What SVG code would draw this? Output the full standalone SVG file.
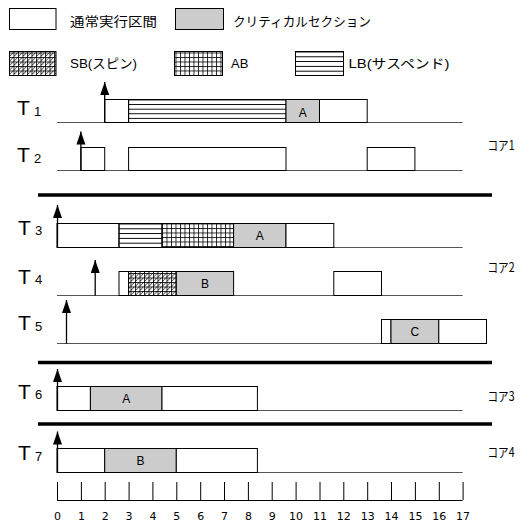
<svg xmlns="http://www.w3.org/2000/svg" width="522" height="523" viewBox="0 0 522 523">
<style>
  .box{fill:#fff;stroke:#000;stroke-width:1}
  .cs{fill:#cccccc;stroke:#000;stroke-width:1}
  .lb{fill:url(#hatchH);stroke:#000;stroke-width:1}
  .ab{fill:url(#grid);stroke:#000;stroke-width:1}
  .sb{fill:url(#sbPat);stroke:#000;stroke-width:1}
  .base{stroke:#555;stroke-width:1.2;fill:none}
  .sep{stroke:#000;stroke-width:3.5}
  .arrow{stroke:#000;stroke-width:1.3;fill:none;marker-end:url(#ah)}
  .t{font-family:'Liberation Sans',Arial,sans-serif;font-size:21px;fill:#000}
  .sub{font-family:'Liberation Sans',Arial,sans-serif;font-size:13px;fill:#000}
  .lbl{font-family:'Liberation Sans',Arial,sans-serif;font-size:12px;fill:#000;text-anchor:middle}
  .leg{font-family:'Liberation Sans','Noto Sans CJK JP',sans-serif;font-size:13px;fill:#000}
  .core{font-family:'Noto Sans CJK JP','Liberation Sans',sans-serif;font-size:13px;fill:#000}
  .num{font-family:'DejaVu Sans',Verdana,sans-serif;font-size:11px;fill:#000;text-anchor:middle}
  .tick{stroke:#000;stroke-width:1}
</style>
<defs>
  <pattern id="hatchH" patternUnits="objectBoundingBox" width="1" height="0.2">
    <path d="M0 0.5H2000" stroke="#000" stroke-width="1"/>
  </pattern>
  <pattern id="grid" patternUnits="userSpaceOnUse" x="0" y="3" width="4.5" height="4.5">
    <rect width="4.5" height="4.5" fill="#fff"/>
    <path d="M0 0.5H4.5M0.5 0V4.5" stroke="#000" stroke-width="0.8"/>
  </pattern>
  <pattern id="sbPat" patternUnits="userSpaceOnUse" x="0" y="3" width="4.5" height="4.5">
    <rect width="4.5" height="4.5" fill="#fff"/>
    <path d="M0 0.5H4.5M0.5 0V4.5M0 4.5L4.5 0" stroke="#000" stroke-width="0.8"/>
  </pattern>
  <marker id="ah" markerUnits="userSpaceOnUse" markerWidth="14" markerHeight="10" refX="13" refY="4.5" orient="auto">
    <path d="M0 0L13 4.5L0 9Z" fill="#000"/>
  </marker>
</defs>

<g id="legend">
  <g id="legend-normal">
    <rect class="box" x="9.5" y="8.5" width="46.5" height="21"/>
    <text class="leg" x="70" y="26" font-size="14" textLength="87" lengthAdjust="spacingAndGlyphs">通常実行区間</text>
  </g>
  <g id="legend-critical">
    <rect class="cs" x="175.5" y="8.5" width="48" height="21"/>
    <text class="leg" x="233" y="25.5" textLength="138" lengthAdjust="spacingAndGlyphs">クリティカルセクション</text>
  </g>
  <g id="legend-sb">
    <rect class="sb" x="9.5" y="51.5" width="46.5" height="24"/>
    <text class="leg" x="70" y="68" textLength="67" lengthAdjust="spacingAndGlyphs">SB(スピン)</text>
  </g>
  <g id="legend-ab">
    <rect class="ab" x="174.5" y="51.5" width="48" height="24"/>
    <text class="leg" x="231" y="68">AB</text>
  </g>
  <g id="legend-lb">
    <rect class="lb" x="295.5" y="51.5" width="48" height="24"/>
    <text class="leg" x="348.5" y="68" textLength="101" lengthAdjust="spacingAndGlyphs">LB(サスペンド)</text>
  </g>
</g>

<g id="separators">
  <line class="sep" x1="38" y1="195" x2="492" y2="195"/>
  <line class="sep" x1="38" y1="362.5" x2="492" y2="362.5"/>
  <line class="sep" x1="38" y1="424" x2="492" y2="424"/>
</g>

<g id="T1">
  <text class="t" x="17" y="115">T</text><text class="sub" x="34" y="115.5">1</text>
  <line class="base" x1="57" y1="122.5" x2="462.6" y2="122.5"/>
  <rect class="box" x="104.7" y="99.5" width="23.9" height="23"/>
  <rect class="lb" x="128.6" y="99.5" width="157.4" height="23"/>
  <rect class="cs" x="286" y="99.5" width="33.5" height="23"/>
  <text class="lbl" x="302.7" y="117">A</text>
  <rect class="box" x="319.5" y="99.5" width="47.7" height="23"/>
</g>

<g id="T2">
  <text class="t" x="17" y="162">T</text><text class="sub" x="34" y="162.5">2</text>
  <line class="base" x1="57" y1="170.5" x2="462.6" y2="170.5"/>
  <rect class="box" x="80.9" y="147.5" width="23.8" height="23"/>
  <rect class="box" x="128.6" y="147.5" width="157.4" height="23"/>
  <rect class="box" x="367.2" y="147.5" width="47.7" height="23"/>
</g>
<text id="core1" class="core" x="487.5" y="150" textLength="27" lengthAdjust="spacingAndGlyphs">コア1</text>

<g id="T3">
  <text class="t" x="18" y="234.5">T</text><text class="sub" x="35" y="235">3</text>
  <line class="base" x1="57" y1="247.5" x2="462.6" y2="247.5"/>
  <rect class="box" x="57" y="223.5" width="62" height="24"/>
  <rect class="lb" x="119" y="223.5" width="43" height="24"/>
  <rect class="ab" x="162" y="223.5" width="71.6" height="24"/>
  <rect class="cs" x="233.6" y="223.5" width="52.4" height="24"/>
  <text class="lbl" x="259.8" y="240">A</text>
  <rect class="box" x="286" y="223.5" width="47.8" height="24"/>
</g>

<g id="T4">
  <text class="t" x="18" y="283.5">T</text><text class="sub" x="35" y="284">4</text>
  <line class="base" x1="57" y1="295.5" x2="462.6" y2="295.5"/>
  <rect class="box" x="119" y="271.5" width="9.6" height="24"/>
  <rect class="sb" x="128.6" y="271.5" width="47.7" height="24"/>
  <rect class="cs" x="176.3" y="271.5" width="57.3" height="24"/>
  <text class="lbl" x="205" y="288">B</text>
  <rect class="box" x="333.8" y="271.5" width="47.7" height="24"/>
</g>
<text id="core2" class="core" x="487.5" y="272" textLength="27" lengthAdjust="spacingAndGlyphs">コア2</text>

<g id="T5">
  <text class="t" x="18" y="330">T</text><text class="sub" x="35" y="330.5">5</text>
  <line class="base" x1="57" y1="343.5" x2="462.6" y2="343.5"/>
  <rect class="box" x="381.5" y="319.5" width="9.5" height="24"/>
  <rect class="cs" x="391" y="319.5" width="47.8" height="24"/>
  <text class="lbl" x="414.9" y="336">C</text>
  <rect class="box" x="438.8" y="319.5" width="47.7" height="24"/>
</g>

<g id="T6">
  <text class="t" x="18" y="398.5">T</text><text class="sub" x="35" y="399">6</text>
  <line class="base" x1="57" y1="410.5" x2="462.6" y2="410.5"/>
  <rect class="box" x="57" y="386.5" width="33.4" height="24"/>
  <rect class="cs" x="90.4" y="386.5" width="71.6" height="24"/>
  <text class="lbl" x="126.2" y="403">A</text>
  <rect class="box" x="162" y="386.5" width="95.4" height="24"/>
</g>
<text id="core3" class="core" x="487.5" y="401" textLength="27" lengthAdjust="spacingAndGlyphs">コア3</text>

<g id="T7">
  <text class="t" x="18" y="460">T</text><text class="sub" x="35" y="460.5">7</text>
  <line class="base" x1="57" y1="472.5" x2="462.6" y2="472.5"/>
  <rect class="box" x="57" y="448.5" width="47.7" height="24"/>
  <rect class="cs" x="104.7" y="448.5" width="71.6" height="24"/>
  <text class="lbl" x="140.5" y="465">B</text>
  <rect class="box" x="176.3" y="448.5" width="81.1" height="24"/>
</g>
<text id="core4" class="core" x="487.5" y="457" textLength="27" lengthAdjust="spacingAndGlyphs">コア4</text>

<g id="connectors">
  <line class="arrow" x1="104.7" y1="122.5" x2="104.7" y2="82"/>
  <line class="arrow" x1="80.9" y1="170.5" x2="80.9" y2="131.5"/>
  <line class="arrow" x1="57.5" y1="247.5" x2="57.5" y2="205"/>
  <line class="arrow" x1="95.2" y1="295.5" x2="95.2" y2="260"/>
  <line class="arrow" x1="66.5" y1="343.5" x2="66.5" y2="300"/>
  <line class="arrow" x1="57.5" y1="410.5" x2="57.5" y2="369"/>
  <line class="arrow" x1="57.5" y1="472.5" x2="57.5" y2="431.5"/>
</g>

<g id="axis">
  <line class="tick" x1="57" y1="500.5" x2="462.6" y2="500.5"/>
  <path class="tick" d="M57.5 482V500M81.4 482V500M105.2 482V500M129.1 482V500M152.9 482V500M176.8 482V500M200.7 482V500M224.5 482V500M248.4 482V500M272.2 482V500M296.1 482V500M320 482V500M343.8 482V500M367.7 482V500M391.5 482V500M415.4 482V500M439.3 482V500M463.1 482V500"/>
  <text class="num" x="57.5" y="520">0</text>
  <text class="num" x="81.4" y="520">1</text>
  <text class="num" x="105.2" y="520">2</text>
  <text class="num" x="129.1" y="520">3</text>
  <text class="num" x="152.9" y="520">4</text>
  <text class="num" x="176.8" y="520">5</text>
  <text class="num" x="200.7" y="520">6</text>
  <text class="num" x="224.5" y="520">7</text>
  <text class="num" x="248.4" y="520">8</text>
  <text class="num" x="272.2" y="520">9</text>
  <text class="num" x="296.1" y="520">10</text>
  <text class="num" x="320" y="520">11</text>
  <text class="num" x="343.8" y="520">12</text>
  <text class="num" x="367.7" y="520">13</text>
  <text class="num" x="391.5" y="520">14</text>
  <text class="num" x="415.4" y="520">15</text>
  <text class="num" x="439.3" y="520">16</text>
  <text class="num" x="463.1" y="520">17</text>
</g>
</svg>
